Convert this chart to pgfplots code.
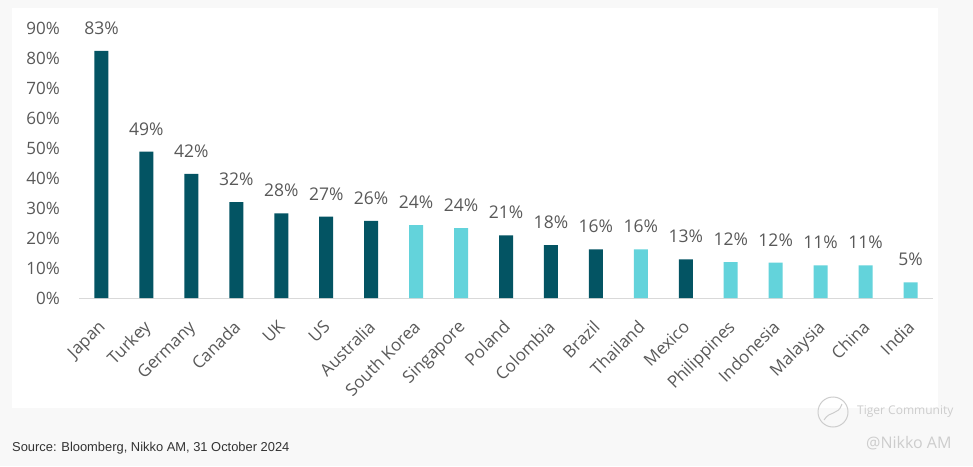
\documentclass[border=0pt]{standalone}
\usepackage{pgfplots}
\pgfplotsset{compat=1.18}
\usepackage{fontspec}
\setmainfont{Open Sans}
\newfontfamily\srcfont{Liberation Sans}
\definecolor{darkteal}{RGB}{3,84,99}
\definecolor{lightteal}{RGB}{99,211,219}
\definecolor{labgray}{RGB}{89,89,89}
\definecolor{basecol}{RGB}{217,217,217}
\definecolor{bgcol}{RGB}{248,248,248}
\definecolor{wmcol}{RGB}{205,205,205}
\begin{document}
\begin{tikzpicture}[x=1pt,y=1pt]
\fill[bgcol] (0,0) rectangle (973,466);
\fill[white] (12,58) rectangle (938,458);
\node[anchor=base west, inner sep=0pt, font=\srcfont\fontsize{12.9}{14}\selectfont, text=black!80] at (12,15) {Source: Bloomberg, Nikko AM, 31 October 2024};
\draw[wmcol, line width=1pt] (833,54) circle (15);
\draw[wmcol, line width=1pt] (824,46) .. controls (830,56) and (838,50) .. (842,62);
\node[anchor=west, inner sep=0pt, font=\fontsize{12}{14}\selectfont, text=wmcol] at (857,54) {Tiger Community};
\node[anchor=west, inner sep=0pt, font=\fontsize{16}{18}\selectfont, text=wmcol] at (866,23) {@Nikko AM};
\begin{axis}[
  at={(79pt,168pt)}, anchor=south west,
  scale only axis, width=854pt, height=270pt,
  xmin=-0.5, xmax=18.5, ymin=0, ymax=90,
  axis line style={draw=none},
  major tick length=0pt,
  xtick={0,...,18},
  xticklabels={Japan,Turkey,Germany,Canada,UK,US,Australia,South Korea,Singapore,Poland,Colombia,Brazil,Thailand,Mexico,Philippines,Indonesia,Malaysia,China,India},
  ytick={0,10,...,90},
  yticklabel={\pgfmathprintnumber{\tick}\%},
  /pgf/number format/assume math mode=true,
  yticklabel style={font=\fontsize{17}{19}\selectfont, text=labgray, anchor=east, inner sep=0pt, xshift=-19pt},
  xticklabel style={font=\fontsize{17}{19}\selectfont, text=labgray, xshift=-4pt, yshift=-21pt, rotate=45, anchor=north east, inner sep=0pt},
  clip=false,
  nodes near coords={\pgfplotspointmeta\%},
  point meta=explicit symbolic,
  nodes near coords style={font=\fontsize{17.5}{19}\selectfont, text=labgray, anchor=base, inner sep=0pt, yshift=16.5pt},
]
\draw[basecol, line width=1pt] (axis cs:-0.5,0) -- (axis cs:18.5,0);
\addplot[ybar, bar width=14pt, bar shift=0pt, fill=darkteal, draw=none] table[meta=lab] {
x y lab
0 82.4 83
1 48.8 49
2 41.4 42
3 32.0 32
4 28.2 28
5 27.1 27
6 25.7 26
9 20.9 21
10 17.6 18
11 16.2 16
13 12.9 13
};
\addplot[ybar, bar width=14pt, bar shift=0pt, fill=lightteal, draw=none] table[meta=lab] {
x y lab
7 24.3 24
8 23.3 24
12 16.2 16
14 12.0 12
15 11.8 12
16 10.9 11
17 10.9 11
18 5.2 5
};
\end{axis}
\end{tikzpicture}
\end{document}
